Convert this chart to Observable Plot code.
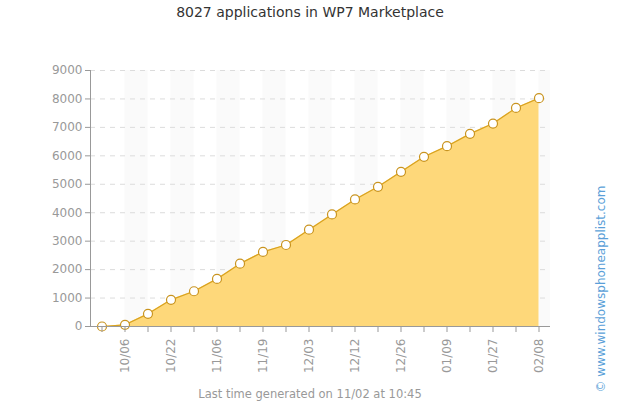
<!DOCTYPE html>
<html><head><meta charset="utf-8">
<script src="https://cdn.jsdelivr.net/npm/d3@7"></script>
<script src="https://cdn.jsdelivr.net/npm/@observablehq/plot@0.6"></script>
<style>
body{margin:0;background:#fff;font-family:"DejaVu Sans",sans-serif;}
#wrap{position:relative;width:620px;height:406px;overflow:hidden;}
#title{height:24px;line-height:24px;text-align:center;font-size:14px;color:#333;}
#chart svg{display:block;}
#foot{height:16px;line-height:16px;text-align:center;font-size:11.5px;color:#999;}
#wm{position:absolute;left:601px;top:289px;transform:translate(-50%,-50%) rotate(-90deg);white-space:nowrap;font-size:12px;color:#5b9fd8;}
</style></head><body>
<div id="wrap">
<div id="title">8027 applications in WP7 Marketplace</div>
<div id="chart"></div>
<div id="foot">Last time generated on 11/02 at 10:45</div>
<div id="wm">© www.windowsphoneapplist.com</div>
</div>
<script>
const dates = ["", "10/06", "", "10/22", "", "11/06", "", "11/19", "", "12/03", "", "12/12", "", "12/26", "", "01/09", "", "01/27", "", "02/08"];
const counts = [0, 60, 445, 937, 1239, 1674, 2210, 2621, 2866, 3404, 3940, 4467, 4912, 5439, 5965, 6340, 6772, 7134, 7684, 8027];
const yTicks = [0, 1000, 2000, 3000, 4000, 5000, 6000, 7000, 8000, 9000];

const data = counts.map((v, i) => ({i, v}));
const lastIdx = counts.length - 1;
const stripes = d3.range(1, counts.length, 2).map(i => ({x1: i, x2: Math.min(i + 1, lastIdx + 0.5)}));

const plot = Plot.plot({
  width: 620, height: 362,
  marginTop: 46, marginBottom: 60, marginLeft: 90, marginRight: 70,
  style: {fontFamily: "DejaVu Sans", fontSize: "12px", color: "#999", background: "transparent"},
  x: {type: "linear", domain: [-0.5, lastIdx + 0.5], axis: null},
  y: {domain: [0, 9000], axis: null},
  marks: [
    Plot.rect(stripes, {x1: "x1", x2: "x2", y1: 0, y2: 9000, fill: "#fafafa"}),
    Plot.ruleY(yTicks.filter(d => d > 0), {stroke: "#dcdcdc", strokeDasharray: "5,5"}),
    Plot.areaY(data, {x: "i", y: "v", fill: "#fed87a"}),
    Plot.line(data, {x: "i", y: "v", stroke: "#d9a21f", strokeWidth: 1.2}),
    Plot.dot(data, {x: "i", y: "v", r: 4.5, fill: "white", stroke: "#c99420", strokeWidth: 1.2}),
    Plot.ruleX([-0.5], {stroke: "#999"}),
    Plot.ruleY([0], {stroke: "#999"}),
    Plot.axisY(yTicks, {tickSize: 5, tickPadding: 3, color: "#999", fontSize: 12, tickFormat: d => String(d), label: null}),
    Plot.axisX(d3.range(counts.length), {tickFormat: i => dates[i], tickRotate: -90, tickSize: 6, tickPadding: 6, color: "#999", fontSize: 12, label: null})
  ]
});
document.getElementById("chart").appendChild(plot);
</script>
</body></html>
